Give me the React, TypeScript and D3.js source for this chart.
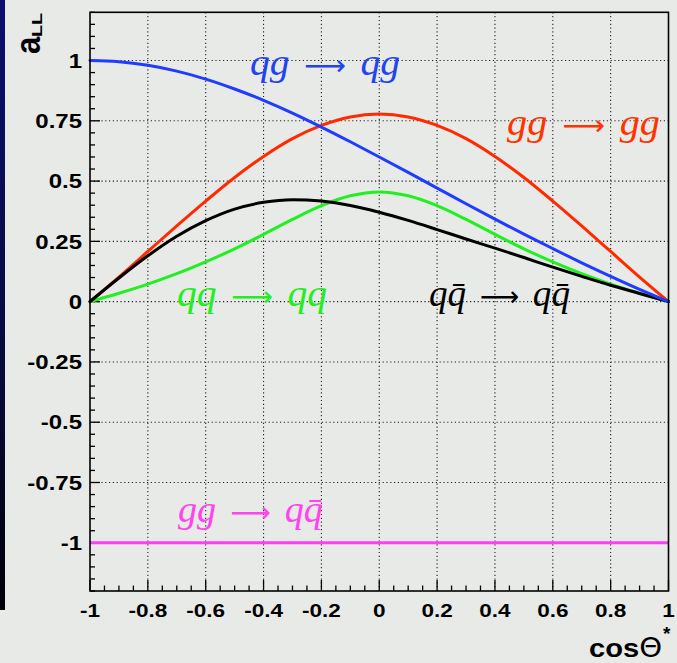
import React from 'react';
import * as d3 from 'd3';

// cos(theta*) sample points
const cosTheta = [-1, -0.9, -0.8, -0.7, -0.6, -0.5, -0.4, -0.3, -0.2, -0.1, 0, 0.1, 0.2, 0.3, 0.4, 0.5, 0.6, 0.7, 0.8, 0.9, 1];

// a_LL values per subprocess
const aLL_qg_qg = [1, 0.995, 0.98, 0.956, 0.923, 0.882, 0.835, 0.782, 0.724, 0.663, 0.6, 0.536, 0.471, 0.406, 0.342, 0.28, 0.22, 0.161, 0.105, 0.051, 0];
const aLL_gg_gg = [0, 0.102, 0.208, 0.314, 0.417, 0.515, 0.602, 0.676, 0.731, 0.766, 0.778, 0.766, 0.731, 0.676, 0.602, 0.515, 0.417, 0.314, 0.208, 0.102, 0];
const aLL_qq_qq = [0, 0.035, 0.073, 0.116, 0.165, 0.219, 0.279, 0.341, 0.398, 0.439, 0.455, 0.439, 0.398, 0.341, 0.279, 0.219, 0.165, 0.116, 0.073, 0.035, 0];
const aLL_qqbar_qqbar = [0, 0.098, 0.19, 0.271, 0.336, 0.384, 0.412, 0.423, 0.417, 0.399, 0.371, 0.337, 0.299, 0.26, 0.222, 0.183, 0.143, 0.105, 0.068, 0.034, 0];
const aLL_gg_qqbar = [-1, -1, -1, -1, -1, -1, -1, -1, -1, -1, -1, -1, -1, -1, -1, -1, -1, -1, -1, -1, -1];

const xTickValues = [-1, -0.8, -0.6, -0.4, -0.2, 0, 0.2, 0.4, 0.6, 0.8, 1];
const xTickLabels = ['-1', '-0.8', '-0.6', '-0.4', '-0.2', '0', '0.2', '0.4', '0.6', '0.8', '1'];
const yTickValues = [-1, -0.75, -0.5, -0.25, 0, 0.25, 0.5, 0.75, 1];
const yTickLabels = ['-1', '-0.75', '-0.5', '-0.25', '0', '0.25', '0.5', '0.75', '1'];

const W = 677;
const H = 663;
const L = 90, R = 668.5, T = 12.3, B = 591;

export default function App() {
  const x = d3.scaleLinear().domain([-1, 1]).range([L, R]);
  const y = d3.scaleLinear().domain([-1.2, 1.2]).range([B, T]);
  const mk = (vals: number[]) =>
    d3.line<number>().x((_, i) => x(cosTheta[i])).y((d) => y(d)).curve(d3.curveMonotoneX)(vals) || '';

  const xMinor = x.ticks(40);
  const yMinor = y.ticks(48);
  const isMajorX = (v: number) => xTickValues.some((t) => Math.abs(t - v) < 1e-6);
  const isMajorY = (v: number) => yTickValues.some((t) => Math.abs(t - v) < 1e-6);

  const serif = "'Liberation Serif', 'DejaVu Serif', serif";
  const sans = "'Liberation Sans', Arial, sans-serif";
  const arrowFont = "'DejaVu Sans', sans-serif";

  const Arrow = () => (
    <tspan fontFamily={arrowFont} fontStyle="normal" fontSize={28}>{'\u2002\u27F6\u2002'}</tspan>
  );

  return (
    <svg width={W} height={H} style={{ position: 'absolute', left: 0, top: 0 }}>
      <defs>
        <linearGradient id="strip" x1="0" y1="0" x2="0" y2="1">
          <stop offset="0" stopColor="#0c0f6e" />
          <stop offset="0.6" stopColor="#070a3c" />
          <stop offset="1" stopColor="#000008" />
        </linearGradient>
      </defs>
      <rect x={0} y={0} width={W} height={H} fill="#e8eae7" />
      <rect x={0} y={0} width={5} height={610} fill="url(#strip)" />

      {/* grid */}
      <g stroke="#222" strokeWidth={1.1} strokeDasharray="1.2,2.6">
        {xTickValues.slice(1, -1).map((v) => (
          <line key={'gx' + v} x1={x(v)} x2={x(v)} y1={T} y2={B} />
        ))}
        {yTickValues.map((v) => (
          <line key={'gy' + v} x1={L} x2={R} y1={y(v)} y2={y(v)} />
        ))}
      </g>

      {/* ticks */}
      <g stroke="#000" strokeWidth={1.3}>
        {xMinor.map((v) => (
          <line key={'tx' + v} x1={x(v)} x2={x(v)} y1={B} y2={B - (isMajorX(v) ? 11 : 5.5)} />
        ))}
        {yMinor.map((v) => (
          <line key={'ty' + v} x1={L} x2={L + (isMajorY(v) ? 10 : 5)} y1={y(v)} y2={y(v)} />
        ))}
      </g>

      {/* curves */}
      <g fill="none" strokeWidth={3} strokeLinejoin="round" strokeLinecap="round">
        <path d={mk(aLL_gg_gg)} stroke="#ff2a00" />
        <path d={mk(aLL_qq_qq)} stroke="#20f020" />
        <path d={mk(aLL_qqbar_qqbar)} stroke="#000000" />
        <path d={mk(aLL_qg_qg)} stroke="#1f3cff" />
        <path d={mk(aLL_gg_qqbar)} stroke="#ff3cf6" strokeLinecap="butt" />
      </g>

      {/* frame */}
      <rect x={L} y={T} width={R - L} height={B - T} fill="none" stroke="#000" strokeWidth={1.6} />

      {/* tick labels */}
      <g fontFamily={sans} fontWeight="bold" fill="#000">
        {yTickValues.map((v, i) => (
          <text key={'ly' + v} transform={`translate(82,${y(v) + 7.2}) scale(1.2,1)`} textAnchor="end" fontSize={20}>
            {yTickLabels[i]}
          </text>
        ))}
        {xTickValues.map((v, i) => (
          <text key={'lx' + v} transform={`translate(${x(v)},617) scale(1.2,1)`} textAnchor="middle" fontSize={18.8}>
            {xTickLabels[i]}
          </text>
        ))}
      </g>

      {/* axis titles */}
      <g transform="translate(40,54) rotate(-90)" fontFamily={sans} fontWeight="bold">
        <text x={0} y={0} fontSize={31} transform="scale(1,1.15)">a</text>
        <text x={17} y={2.2} fontSize={14} textLength={24} lengthAdjust="spacingAndGlyphs">LL</text>
      </g>
      <g transform="translate(589,657) scale(1.12,1)">
        <text x={0} y={0} fontFamily={sans} fontSize={26}>
          <tspan fontWeight="bold">cos</tspan>
          <tspan fontFamily="'DejaVu Sans', sans-serif" fontSize={26}>Θ</tspan>
        </text>
      </g>
      <text x={663} y={640} fontFamily={sans} fontWeight="bold" fontSize={19}>*</text>

      {/* process labels */}
      <g fontFamily={serif} fontStyle="italic" fontSize={38}>
        <text x={250} y={75} fill="#2244ee" textLength={150} lengthAdjust="spacingAndGlyphs">qg<Arrow />qg</text>
        <text x={507} y={135} fill="#ff3300" textLength={153} lengthAdjust="spacingAndGlyphs">gg<Arrow />gg</text>
        <text x={177} y={306} fill="#22ee22" textLength={150} lengthAdjust="spacingAndGlyphs">qq<Arrow />qq</text>
        <text x={429} y={306} fill="#000" textLength={141} lengthAdjust="spacingAndGlyphs">q{'q\u0304'}<Arrow />q{'q\u0304'}</text>
        <text x={178} y={522} fill="#ff44ee" textLength={145} lengthAdjust="spacingAndGlyphs">gg<Arrow />q{'q\u0304'}</text>
      </g>
    </svg>
  );
}
